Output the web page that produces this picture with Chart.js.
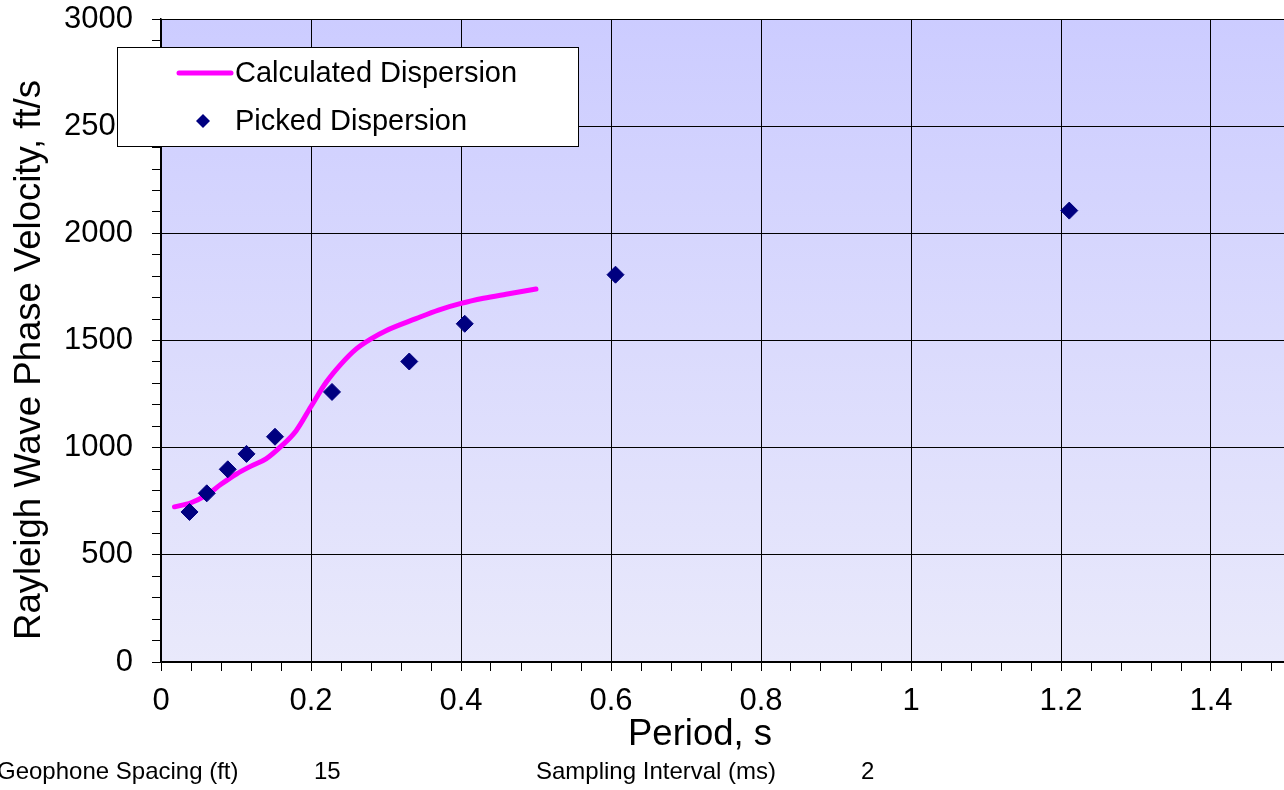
<!DOCTYPE html>
<html>
<head>
<meta charset="utf-8">
<title>Rayleigh Wave Dispersion</title>
<script src="https://cdn.jsdelivr.net/npm/chart.js@4.4.1/dist/chart.umd.min.js"></script>
<style>
  html, body { margin: 0; padding: 0; background: #ffffff; overflow: hidden; }
  #wrap { width: 1284px; height: 790px; overflow: hidden; position: relative; }
  canvas { display: block; }
</style>
</head>
<body>
<div id="wrap"><canvas id="chart" width="1420" height="790"></canvas></div>
<script>
// Picked dispersion points (period in s, phase velocity in ft/s)
const pickedPeriod   = [0.038, 0.061, 0.089, 0.114, 0.152, 0.228, 0.331, 0.405, 0.606, 1.211];
const pickedVelocity = [700, 787, 899, 971, 1051, 1260, 1402, 1578, 1807, 2106];

// Calculated dispersion curve from the layered model
const calcPeriod   = [0.018, 0.04, 0.06, 0.08, 0.10, 0.12, 0.14, 0.16, 0.18, 0.20, 0.22, 0.24, 0.26, 0.28, 0.30, 0.34, 0.37, 0.40, 0.43, 0.46, 0.50];
const calcVelocity = [724, 743, 777, 829, 876, 914, 948, 1006, 1078, 1192, 1304, 1390, 1460, 1508, 1546, 1602, 1642, 1673, 1697, 1716, 1740];

// Axis ranges and tick spacing
const xRange = [0, 1.6];
const xMajor = 0.2, xMinor = 0.04;
const yRange = [0, 3000];
const yMajor = 500, yMinor = 100;

// Legend and footer text
const seriesNames = ['Calculated Dispersion', 'Picked Dispersion'];
const axisTitles = { x: 'Period, s', y: 'Rayleigh Wave Phase Velocity, ft/s' };
const footerItems = [
  { text: 'Geophone Spacing (ft)', x: -3 },
  { text: '15', x: 314 },
  { text: 'Sampling Interval (ms)', x: 536 },
  { text: '2', x: 861 }
];

const FONT = '"Liberation Sans", Arial, Helvetica, sans-serif';
const LINE_COLOR = '#ff00ff';
const MARK_COLOR = '#000080';

function isMultiple(v, step) {
  const q = v / step;
  return Math.abs(q - Math.round(q)) < 1e-6;
}

const calcData = calcPeriod.map((x, i) => ({ x, y: calcVelocity[i] }));
const pickedData = pickedPeriod.map((x, i) => ({ x, y: pickedVelocity[i] }));

// Plot background, legend box, titles and footer
const decorations = {
  id: 'decorations',
  beforeDraw(chart) {
    const { ctx, chartArea: a } = chart;
    const g = ctx.createLinearGradient(0, a.top, 0, a.bottom);
    g.addColorStop(0, '#ccccff');
    g.addColorStop(1, '#e9e9fb');
    ctx.save();
    ctx.fillStyle = g;
    ctx.fillRect(a.left, a.top, a.right - a.left, a.bottom - a.top);
    ctx.restore();
  },
  afterDraw(chart) {
    const { ctx } = chart;
    ctx.save();

    // axis titles
    ctx.fillStyle = '#000';
    ctx.font = '36.5px ' + FONT;
    ctx.textAlign = 'center';
    ctx.textBaseline = 'alphabetic';
    ctx.fillText(axisTitles.x, 700, 745);
    ctx.save();
    ctx.translate(40, 360);
    ctx.rotate(-Math.PI / 2);
    ctx.fillText(axisTitles.y, 0, 0);
    ctx.restore();

    // footer
    ctx.font = '24px ' + FONT;
    ctx.textAlign = 'left';
    footerItems.forEach(f => ctx.fillText(f.text, f.x, 779));

    // legend
    const lx = 117.5, ly = 47.5, lw = 461, lh = 99;
    ctx.fillStyle = '#ffffff';
    ctx.fillRect(lx, ly, lw, lh);
    ctx.strokeStyle = '#000';
    ctx.lineWidth = 1;
    ctx.strokeRect(lx, ly, lw, lh);

    ctx.strokeStyle = LINE_COLOR;
    ctx.lineWidth = 5;
    ctx.lineCap = 'round';
    ctx.beginPath();
    ctx.moveTo(179, 73);
    ctx.lineTo(231, 73);
    ctx.stroke();

    ctx.fillStyle = MARK_COLOR;
    ctx.beginPath();
    ctx.moveTo(203, 114);
    ctx.lineTo(210, 121);
    ctx.lineTo(203, 128);
    ctx.lineTo(196, 121);
    ctx.closePath();
    ctx.fill();

    ctx.fillStyle = '#000';
    ctx.font = '29px ' + FONT;
    ctx.textAlign = 'left';
    ctx.textBaseline = 'middle';
    ctx.fillText(seriesNames[0], 235, 74);
    ctx.fillText(seriesNames[1], 235, 122);
    ctx.restore();
  }
};

new Chart(document.getElementById('chart'), {
  type: 'scatter',
  data: {
    datasets: [
      {
        label: seriesNames[0],
        data: calcData,
        showLine: true,
        borderColor: LINE_COLOR,
        backgroundColor: LINE_COLOR,
        borderWidth: 5,
        borderCapStyle: 'round',
        borderJoinStyle: 'round',
        pointRadius: 0,
        cubicInterpolationMode: 'monotone',
        order: 2
      },
      {
        label: seriesNames[1],
        data: pickedData,
        showLine: false,
        pointStyle: 'rectRot',
        pointRadius: 8.5,
        pointBorderWidth: 1,
        borderColor: MARK_COLOR,
        backgroundColor: MARK_COLOR,
        order: 1
      }
    ]
  },
  options: {
    responsive: false,
    animation: false,
    events: [],
    layout: { padding: { top: 19, left: 0, right: 59, bottom: 0 } },
    plugins: { legend: { display: false }, tooltip: { enabled: false } },
    scales: {
      x: {
        type: 'linear',
        min: xRange[0], max: xRange[1],
        afterFit(scale) {
          scale.height = 128;
          scale.paddingLeft = 0;
          scale.paddingRight = 0;
        },
        border: { color: '#000', width: 1.5 },
        grid: {
          color: c => isMultiple(c.tick.value, xMajor) ? '#000' : 'rgba(0,0,0,0)',
          tickColor: '#000',
          lineWidth: 1,
          tickLength: 9
        },
        ticks: {
          stepSize: xMinor,
          autoSkip: false,
          maxRotation: 0,
          minRotation: 0,
          padding: 12,
          color: '#000',
          font: { family: FONT, size: 31 },
          callback: v => isMultiple(v, xMajor) ? String(Math.round(v * 10) / 10) : ''
        }
      },
      y: {
        type: 'linear',
        min: yRange[0], max: yRange[1],
        afterFit(scale) {
          scale.width = 161;
          scale.paddingTop = 0;
          scale.paddingBottom = 0;
        },
        border: { color: '#000', width: 1.5 },
        grid: {
          color: c => isMultiple(c.tick.value, yMajor) ? '#000' : 'rgba(0,0,0,0)',
          tickColor: '#000',
          lineWidth: 1,
          tickLength: 9
        },
        ticks: {
          stepSize: yMinor,
          autoSkip: false,
          padding: 19,
          color: '#000',
          font: { family: FONT, size: 31 },
          callback: v => isMultiple(v, yMajor) ? String(v) : ''
        }
      }
    }
  },
  plugins: [decorations]
});
</script>
</body>
</html>
